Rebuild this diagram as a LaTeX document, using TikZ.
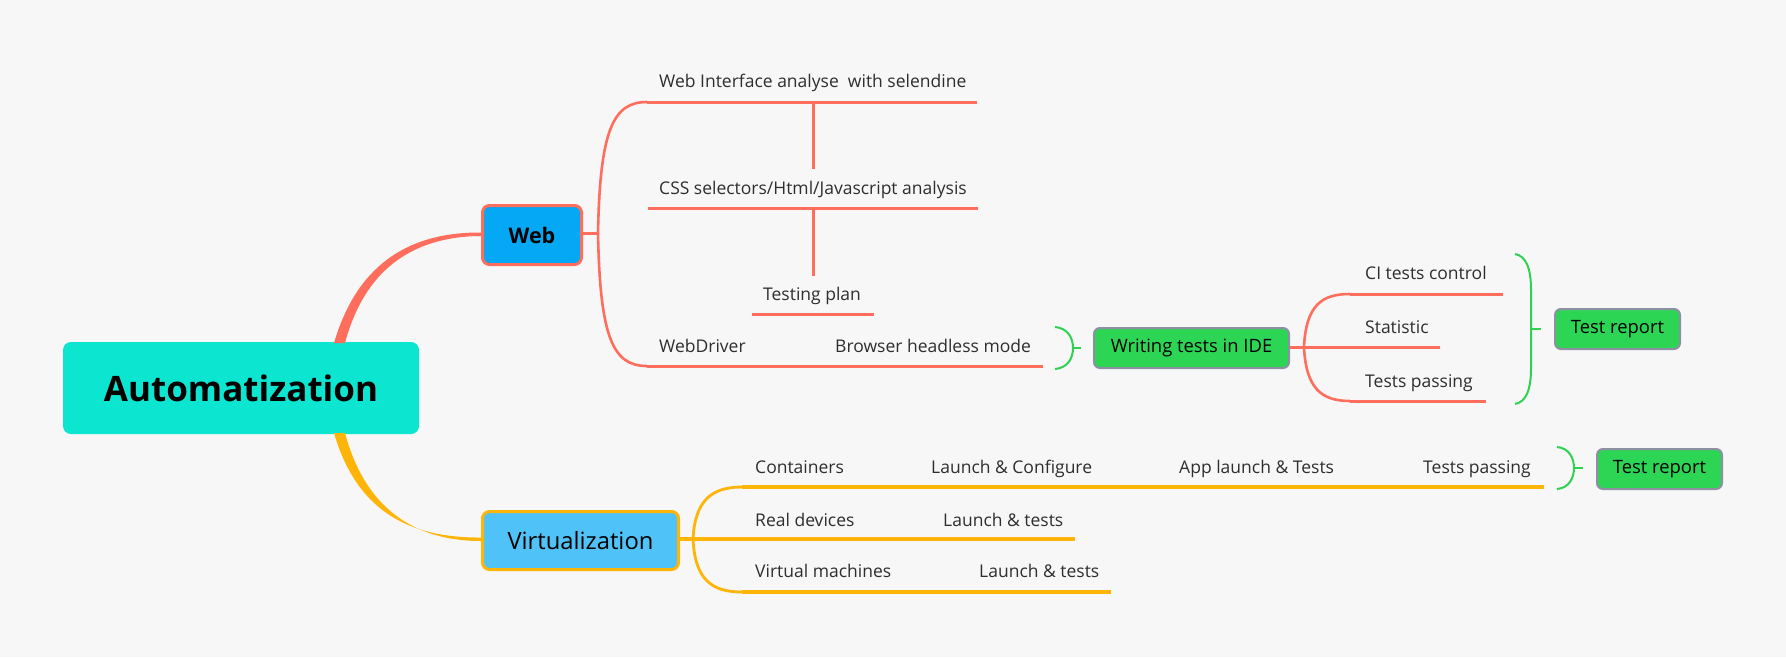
\documentclass[tikz,border=0pt]{standalone}
\usepackage{fontspec}
\setmainfont{Open Sans}
\definecolor{bg}{HTML}{F7F7F7}
\definecolor{salmon}{HTML}{FF6E5C}
\definecolor{amber}{HTML}{FFB408}
\definecolor{gbrace}{HTML}{2ED152}
\definecolor{teal}{HTML}{0CE6D0}
\definecolor{webblue}{HTML}{05A8F4}
\definecolor{virtblue}{HTML}{4FC3F7}
\definecolor{gfill}{HTML}{2DD555}
\definecolor{gborder}{HTML}{8D90A3}
\definecolor{txt}{HTML}{2E2E2E}
\tikzset{
  topic/.style={anchor=base west, inner sep=0pt, text=txt, font=\fontsize{17.5}{20}\selectfont},
  redline/.style={draw=salmon, line width=3pt},
  ambline/.style={draw=amber, line width=3.2pt},
  bracel/.style={draw=gbrace, line width=2pt},
  greenbox/.style={draw=gborder, line width=2pt, fill=gfill, rounded corners=6pt, inner sep=0pt, minimum width=125pt, minimum height=40pt, font=\fontsize{18.4}{22}\selectfont, text=black},
}
\begin{document}
\begin{tikzpicture}[x=1pt,y=-1pt]
\fill[bg] (0,0) rectangle (1786,657);
\useasboundingbox (0,0) rectangle (1786,657);

% main nodes
\node[fill=teal, rounded corners=8pt, minimum width=356pt, minimum height=92pt, inner sep=0pt,
      font=\fontsize{35}{40}\selectfont\bfseries] (root) at (241,388) {Automatization};
\node[fill=webblue, draw=salmon, line width=3pt, rounded corners=7pt, minimum width=99pt, minimum height=59pt, inner sep=0pt,
      font=\fontsize{21.5}{24}\selectfont\bfseries] (web) at (532,235) {Web};
\node[fill=virtblue, draw=amber, line width=3pt, rounded corners=7pt, minimum width=196pt, minimum height=58pt, inner sep=0pt,
      font=\fontsize{23.8}{28}\selectfont] (virt) at (580.5,540.5) {Virtualization};

% tapered main connectors
\coordinate (rootT1) at (334,343);
\coordinate (rootT2) at (345,343);
\coordinate (rootB1) at (334,433);
\coordinate (rootB2) at (345,433);
\fill[salmon] (rootT1) .. controls (356,268) and (405,232) .. (web.west |- 0,232.5) -- (web.west |- 0,236) .. controls (410,236.5) and (364,272) .. (rootT2) -- cycle;
\fill[amber] (rootB1) .. controls (356,508) and (405,538) .. (virt.west |- 0,537.5) -- (virt.west |- 0,541) .. controls (410,541) and (364,504) .. (rootB2) -- cycle;

% Web subtree
\coordinate (wb) at (598,233);
\draw[redline] (web.east |- wb) -- (wb);
\node[topic] (wi) at (659,87) {Web Interface analyse\ \ with selendine};
\node[topic] (css) at (659,194) {CSS selectors/Html/Javascript analysis};
\node[topic] (tp) at (763,300) {Testing plan};
\node[topic] (wd) at (659,352) {WebDriver};
\node[topic] (bh) at (835,352) {Browser headless mode};
\coordinate (wiL) at (647,102); \coordinate (wiR) at (977,102);
\coordinate (cssL) at (648,208); \coordinate (cssR) at (978,208);
\coordinate (tpL) at (752,314); \coordinate (tpR) at (874,314);
\coordinate (wdL) at (647,366); \coordinate (bhR) at (1043,366);
\draw[redline, line width=2.6pt] (wb) .. controls (600,130) and (613,102) .. (wiL);
\draw[redline] (wiL) -- (wiR);
\draw[redline, line width=2.6pt] (wb) .. controls (600,338) and (613,366) .. (wdL);
\draw[redline] (wdL) -- (bhR);
\draw[redline] (cssL) -- (cssR);
\draw[redline] (tpL) -- (tpR);
\draw[redline] (813,102) -- (813,169);
\draw[redline] (813,208) -- (813,276);

% brace to Writing tests
\node[greenbox, minimum width=195pt] (ide) at (1191.5,348) {Writing tests in IDE};
\draw[bracel] (1055,327) .. controls (1067,328) and (1073,337) .. (1073,348) .. controls (1073,359) and (1067,368) .. (1055,369);
\draw[bracel] (1073,348) -- (1081,348);

% IDE subtree
\coordinate (ib) at (1304,347);
\draw[redline] (ide.east |- ib) -- (ib);
\node[topic] (ci) at (1365,279) {CI tests control};
\node[topic] (st) at (1365,333) {Statistic};
\node[topic] (tpass) at (1365,387) {Tests passing};
\draw[redline, line width=2.6pt] (ib) .. controls (1306,305) and (1322,294) .. (1350,294);
\draw[redline] (1350,294) -- (1503,294);
\draw[redline] (ib) -- (1440,347);
\draw[redline, line width=2.6pt] (ib) .. controls (1306,389) and (1322,401) .. (1350,401);
\draw[redline] (1350,401) -- (1486,401);

% brace to Test report 1
\node[greenbox] (tr1) at (1617.5,329) {Test report};
\draw[bracel] (1515,254) .. controls (1526,256) and (1531,268) .. (1531,290) -- (1531,368) .. controls (1531,390) and (1526,402) .. (1515,404);
\draw[bracel] (1531,329) -- (1541,329);

% Virtualization subtree
\coordinate (vb) at (693,539);
\draw[ambline] (virt.east |- vb) -- (vb);
\node[topic] (cont) at (755,473) {Containers};
\node[topic] (lc) at (931,473) {Launch \& Configure};
\node[topic] (al) at (1179,473) {App launch \& Tests};
\node[topic] (tpv) at (1423,473) {Tests passing};
\node[topic] (rd) at (755,526) {Real devices};
\node[topic] (lt1) at (943,526) {Launch \& tests};
\node[topic] (vm) at (755,577) {Virtual machines};
\node[topic] (lt2) at (979,577) {Launch \& tests};
\draw[ambline, line width=2.8pt] (vb) .. controls (695,500) and (712,487) .. (742,487);
\draw[ambline] (742,487) -- (1544,487);
\draw[ambline] (vb) -- (1075,539);
\draw[ambline, line width=2.8pt] (vb) .. controls (695,580) and (712,592) .. (742,592);
\draw[ambline] (742,592) -- (1111,592);

% brace to Test report 2
\node[greenbox] (tr2) at (1659.5,469) {Test report};
\draw[bracel] (1557,447) .. controls (1569,448) and (1574,458) .. (1574,468) .. controls (1574,478) and (1569,488) .. (1557,489);
\draw[bracel] (1574,468) -- (1583,468);
\end{tikzpicture}
\end{document}
